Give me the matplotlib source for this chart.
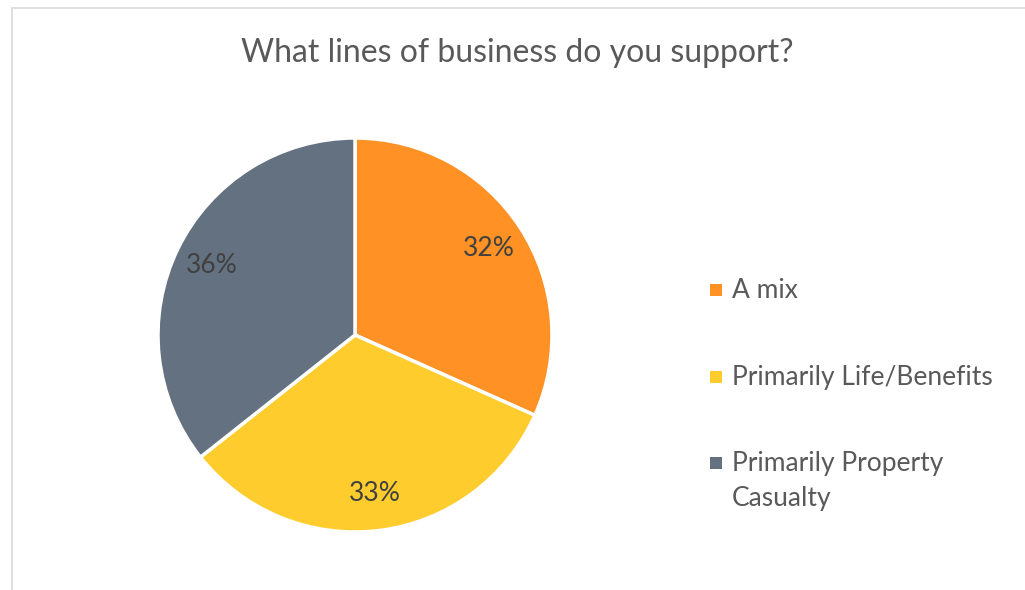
import matplotlib.pyplot as plt
from matplotlib.patches import Rectangle

plt.rcParams['font.family'] = ['Lato', 'DejaVu Sans']

labels = ['A mix', 'Primarily Life/Benefits', 'Primarily Property\nCasualty']
shares = [32, 33, 36]
colors = ['#FF9125', '#FFCC2E', '#647180']

W, H = 1025, 590
fig = plt.figure(figsize=(W / 100, H / 100), dpi=100)

# light chart-area frame
fig.patches.append(Rectangle((12 / W, -0.1), 1.1, (H - 8) / H + 0.1, transform=fig.transFigure,
                             fill=False, edgecolor='#D9D9D9', linewidth=1.2))

fig.text(517 / W, 1 - 53 / H, 'What lines of business do you support?', ha='center', va='center',
         fontsize=23, color='#595959')

# pie centred near (355, 335) px, radius 197 px
cx, cy, r = 355, 335, 197
ax = fig.add_axes([(cx - r) / W, (H - cy - r) / H, 2 * r / W, 2 * r / H])
wedges, texts = ax.pie(shares, colors=colors, startangle=90, counterclock=False,
                       labels=[f'{v}%' for v in shares], labeldistance=0.81,
                       wedgeprops=dict(edgecolor='white', linewidth=2.5),
                       textprops=dict(fontsize=19, color='#404040', ha='center', va='center'))
ax.set_xlim(-1, 1)
ax.set_ylim(-1, 1)
ax.set_aspect('equal')
ax.axis('off')

# legend on the right
ys = [290, 377, 463]
for lab, c, y in zip(labels, colors, ys):
    fig.patches.append(Rectangle((710 / W, 1 - (y + 6) / H), 12 / W, 12 / H, transform=fig.transFigure,
                                 facecolor=c, edgecolor='none'))
    if '\n' in lab:
        fig.text(732 / W, 1 - (y - 12) / H, lab, ha='left', va='top',
                 fontsize=19, color='#595959', linespacing=1.52)
    else:
        fig.text(732 / W, 1 - y / H, lab, ha='left', va='center',
                 fontsize=19, color='#595959')

fig.savefig('out.png', dpi=100, facecolor='white')
